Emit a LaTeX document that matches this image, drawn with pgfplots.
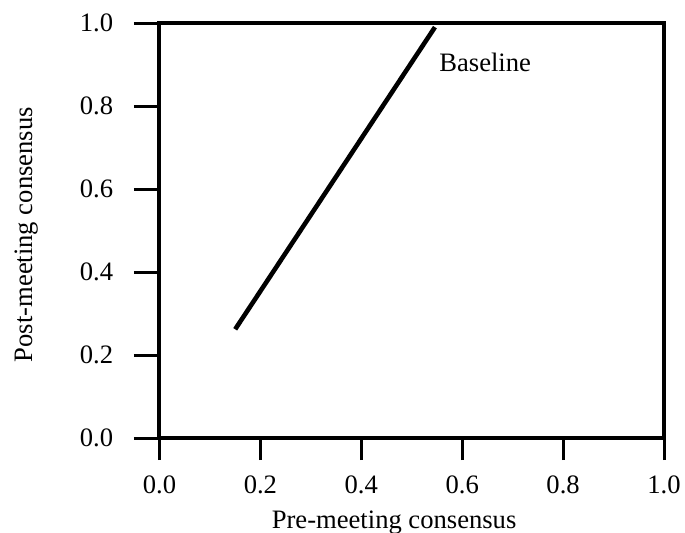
\documentclass[border=0pt]{standalone}
\usepackage{fontspec}
\setmainfont{Liberation Serif}
\usepackage{pgfplots}
\pgfplotsset{compat=1.18}
\usetikzlibrary{calc}
\begin{document}
\fontsize{13.3}{16}\selectfont
\begin{tikzpicture}
\begin{axis}[
  name=ax,
  scale only axis,
  width=252.25pt, height=207.5pt,
  xmin=0, xmax=1, ymin=0, ymax=1,
  xtick={0,0.2,0.4,0.6,0.8,1.0},
  ytick={0,0.2,0.4,0.6,0.8,1.0},
  xticklabels={0.0,0.2,0.4,0.6,0.8,1.0},
  yticklabels={0.0,0.2,0.4,0.6,0.8,1.0},
  xtick pos=bottom, ytick pos=left,
  tick align=outside,
  axis line style={line width=2pt},
  xtick style={line width=1.5pt, black, /pgfplots/major tick length=11pt},
  ytick style={line width=1.5pt, black, /pgfplots/major tick length=12.75pt},
  /pgf/number format/assume math mode=true,
  tick label style={font=\fontsize{13.3}{16}\selectfont, inner sep=0pt},
  xticklabel style={anchor=north, yshift=-14.5pt},
  yticklabel style={anchor=east, xshift=-18.75pt},
  xlabel={Pre-meeting consensus},
  ylabel={Post-meeting consensus},
  label style={font=\fontsize{13.3}{16}\selectfont, inner sep=0pt},
  xlabel style={at={(axis description cs:0.465,0)}, anchor=base, yshift=-45pt},
  ylabel style={at={(axis description cs:0,0.49)}, anchor=base, yshift=63.25pt},
]
\addplot[line width=2.3pt, black] coordinates {(0.150,0.262) (0.546,0.99)};
\node[anchor=base west, inner sep=0pt, font=\fontsize{13.3}{16}\selectfont] at (axis cs:0.554,0.882) {Baseline};
\end{axis}
\pgfresetboundingbox
\path ($(ax.south west)+(-79.75pt,-47pt)$) rectangle ($(ax.north east)+(10.5pt,11.5pt)$);
\end{tikzpicture}
\end{document}
